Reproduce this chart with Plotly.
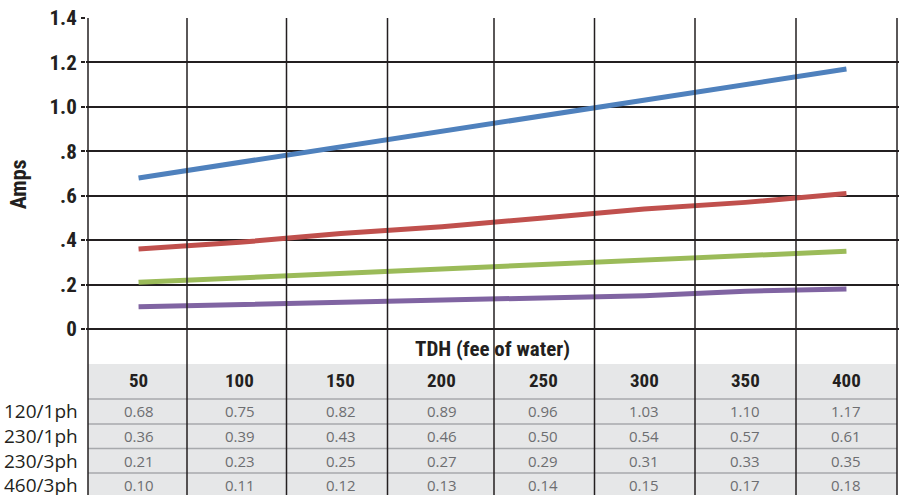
import plotly.graph_objects as go

# ---- data ----
tdh = [50, 100, 150, 200, 250, 300, 350, 400]
series_names = ["120/1ph", "230/1ph", "230/3ph", "460/3ph"]
amps_120_1ph = [0.68, 0.75, 0.82, 0.89, 0.96, 1.03, 1.10, 1.17]
amps_230_1ph = [0.36, 0.39, 0.43, 0.46, 0.50, 0.54, 0.57, 0.61]
amps_230_3ph = [0.21, 0.23, 0.25, 0.27, 0.29, 0.31, 0.33, 0.35]
amps_460_3ph = [0.10, 0.11, 0.12, 0.13, 0.14, 0.15, 0.17, 0.18]
y_tick_vals = [0, 0.2, 0.4, 0.6, 0.8, 1.0, 1.2, 1.4]
y_tick_text = ["0", ".2", ".4", ".6", ".8", "1.0", "1.2", "1.4"]
x_title = "TDH (fee of water)"
y_title = "Amps"

series = [amps_120_1ph, amps_230_1ph, amps_230_3ph, amps_460_3ph]
colors = ["#4F81BD", "#C0504D", "#9BBB59", "#8064A2"]

COND = "Liberation Sans Narrow, Roboto Condensed, Arial Narrow, Liberation Sans, sans-serif"
BODY = "Open Sans, Noto Sans, sans-serif"

# geometry (pixels)
W, H = 900, 495
L, R, T = 86, 1, 17
px_per_unit = 222.1
y0_px = 329           # pixel row of y=0
y_top = 1.4 + (18 - T) / px_per_unit
y_bot = -(H - y0_px) / px_per_unit
step = tdh[1] - tdh[0]
x_lo, x_hi = tdh[0] - step / 2, tdh[-1] + step / 2
units_per_px = (x_hi - x_lo) / (897 - 88)
xr = [x_lo - (88 - L) * units_per_px, x_hi + ((W - R) - 897) * units_per_px]
col_edges_px = [88, 187, 286.5, 387.5, 494, 594.5, 695, 796, 897]


def ypx(p):
    return -(p - y0_px) / px_per_unit


def xpx(p):
    return x_lo + (p - 88) * units_per_px


fig = go.Figure()

shapes = []
# table background
shapes.append(dict(type="rect", xref="x", yref="y", x0=x_lo, x1=x_hi,
                   y0=ypx(364), y1=y_bot, fillcolor="#E6E7E8",
                   line=dict(width=0), layer="below"))
# row separators
for p in [399, 424, 448.5, 473]:
    shapes.append(dict(type="line", xref="x", yref="y", x0=x_lo, x1=x_hi,
                       y0=ypx(p), y1=ypx(p), line=dict(color="#A7A9AC", width=1.5),
                       layer="below"))
# vertical column lines
for p in col_edges_px:
    xv = xpx(p)
    shapes.append(dict(type="line", xref="x", yref="y", x0=xv, x1=xv,
                       y0=1.4, y1=y_bot, line=dict(color="#231F20", width=1.5)))

for name, vals, c in zip(series_names, series, colors):
    fig.add_trace(go.Scatter(x=tdh, y=vals, mode="lines", name=name,
                             line=dict(color=c, width=5), showlegend=False))

annotations = []
annotations.append(dict(text="<b>" + x_title + "</b>", xref="x", yref="y",
                        x=(x_lo + x_hi) / 2, y=ypx(349), showarrow=False,
                        font=dict(family=COND, size=21, color="#231F20")))
annotations.append(dict(text="<b>" + y_title + "</b>", xref="paper", yref="y",
                        x=-0.082, y=ypx(184), xanchor="center", showarrow=False,
                        textangle=-90, font=dict(family=COND, size=22, color="#231F20")))
for xv in tdh:
    annotations.append(dict(text="<b>%d</b>" % xv, xref="x", yref="y", x=xv,
                            y=ypx(381), showarrow=False,
                            font=dict(family=COND, size=19, color="#231F20")))
row_centers = [411.5, 436, 461, 485]
for name, vals, rc in zip(series_names, series, row_centers):
    annotations.append(dict(text=name, xref="paper", yref="y", x=-0.0075,
                            xanchor="right", y=ypx(rc), showarrow=False,
                            font=dict(family=BODY, size=19, color="#231F20")))
    for xv, v in zip(tdh, vals):
        annotations.append(dict(text="%.2f" % v, xref="x", yref="y", x=xv,
                                y=ypx(rc), showarrow=False,
                                font=dict(family=BODY, size=15, color="#6D6E71")))

fig.update_layout(
    width=W, height=H,
    margin=dict(l=L, r=R, t=T, b=0, pad=0),
    paper_bgcolor="white", plot_bgcolor="rgba(0,0,0,0)",
    shapes=shapes, annotations=annotations,
    xaxis=dict(range=xr, showgrid=False, zeroline=False, showticklabels=False,
               ticks="", showline=False, fixedrange=True),
    yaxis=dict(range=[y_bot, y_top], tickvals=y_tick_vals, ticktext=y_tick_text,
               showgrid=True, gridcolor="#231F20", gridwidth=1.5, zeroline=False,
               ticks="outside", ticklen=4, tickcolor="#231F20", tickwidth=1.5,
               showline=False,
               tickfont=dict(family=COND, size=21, color="#231F20", weight="bold"),
               fixedrange=True),
)

fig.write_html("out.html", config={"displayModeBar": False},
               post_script="document.body.style.margin='0';document.body.style.padding='0';document.body.style.overflow='hidden';")
